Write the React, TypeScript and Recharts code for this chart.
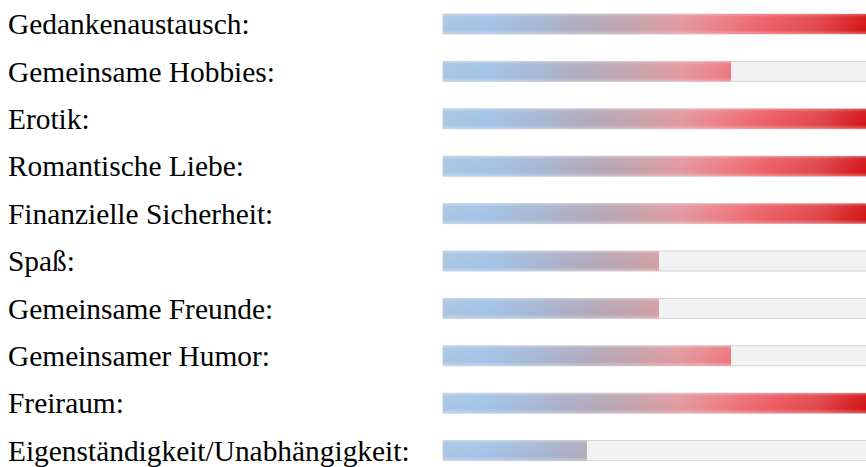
import { Bar, BarChart, XAxis, YAxis } from "recharts";

const categories = [
  "Gedankenaustausch:",
  "Gemeinsame Hobbies:",
  "Erotik:",
  "Romantische Liebe:",
  "Finanzielle Sicherheit:",
  "Spaß:",
  "Gemeinsame Freunde:",
  "Gemeinsamer Humor:",
  "Freiraum:",
  "Eigenständigkeit/Unabhängigkeit:",
];

// Bewertung auf einer Skala von 0 bis 6
const ratings = [6, 4, 6, 6, 6, 3, 3, 4, 6, 2];
const maxRating = 6;

const data = categories.map((label, i) => ({ label, value: ratings[i] }));

const AXIS_W = 443;
const PLOT_W = 432;

function LabelTick(props: any) {
  const { y, payload } = props;
  return (
    <text
      x={8}
      y={y}
      dy="0.355em"
      fontFamily="'Liberation Serif', 'Times New Roman', serif"
      fontSize={29.4}
      fill="#000"
    >
      {payload.value}
    </text>
  );
}

function GradientBar(props: any) {
  const { x, y, width, height } = props;
  if (!width || width <= 0) return null;
  return (
    <g>
      <rect x={x} y={y} width={width} height={height} fill="url(#barFill)" />
      <rect x={x} y={y} width={width} height={height} fill="url(#barShine)" />
    </g>
  );
}

export default function App() {
  return (
    <div
      style={{
        position: "absolute",
        left: 0,
        top: 0,
        width: 866,
        height: 467,
        overflow: "hidden",
        background: "#fff",
      }}
    >
      <BarChart
        layout="vertical"
        width={AXIS_W + PLOT_W}
        height={474}
        data={data}
        margin={{ top: 0, right: 0, bottom: 0, left: 0 }}
      >
        <defs>
          <linearGradient
            id="barFill"
            gradientUnits="userSpaceOnUse"
            x1={AXIS_W}
            y1={0}
            x2={AXIS_W + PLOT_W}
            y2={0}
          >
            <stop offset="0%" stopColor="#a9c6e3" />
            <stop offset="10%" stopColor="#a2c3e6" />
            <stop offset="24%" stopColor="#a8b4cf" />
            <stop offset="35%" stopColor="#b3a8b9" />
            <stop offset="45%" stopColor="#c6a2aa" />
            <stop offset="55%" stopColor="#e2989f" />
            <stop offset="65%" stopColor="#ec7c83" />
            <stop offset="76%" stopColor="#ec5c63" />
            <stop offset="87%" stopColor="#e0464b" />
            <stop offset="100%" stopColor="#d20a0a" />
          </linearGradient>
          <linearGradient id="barShine" x1="0" y1="0" x2="0" y2="1">
            <stop offset="0%" stopColor="#fff" stopOpacity={0.3} />
            <stop offset="15%" stopColor="#fff" stopOpacity={0.05} />
            <stop offset="80%" stopColor="#fff" stopOpacity={0} />
            <stop offset="100%" stopColor="#fff" stopOpacity={0.3} />
          </linearGradient>
        </defs>
        <XAxis type="number" hide domain={[0, maxRating]} />
        <YAxis
          type="category"
          dataKey="label"
          width={AXIS_W}
          axisLine={false}
          tickLine={false}
          tick={<LabelTick />}
          interval={0}
        />
        <Bar
          dataKey="value"
          barSize={20}
          isAnimationActive={false}
          background={{ fill: "#f2f2f2", stroke: "#d2d2d2", strokeWidth: 1 }}
          shape={<GradientBar />}
        />
      </BarChart>
    </div>
  );
}
